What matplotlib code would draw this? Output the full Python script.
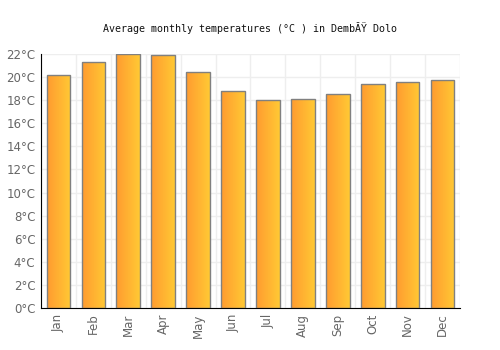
import numpy as np
import matplotlib
matplotlib.use("Agg")
import matplotlib.pyplot as plt
from matplotlib.colors import LinearSegmentedColormap

months = ["Jan", "Feb", "Mar", "Apr", "May", "Jun", "Jul", "Aug", "Sep", "Oct", "Nov", "Dec"]
temps = [20.2, 21.3, 22.0, 21.9, 20.4, 18.8, 18.0, 18.1, 18.5, 19.4, 19.6, 19.7]
yticks = list(range(0, 23, 2))
ytick_labels = [f"{v}°C" for v in yticks]
title = "Average monthly temperatures (°C ) in DembĂŸ Dolo"

fig = plt.figure(figsize=(5, 3.5), dpi=100)
ax = fig.add_axes([0.082, 0.12, 0.838, 0.726])

x = np.arange(len(months))
bars = ax.bar(x, temps, width=0.68, color="none", edgecolor="#808080", linewidth=1.0, zorder=3)

cmap = LinearSegmentedColormap.from_list("g", ["#ff9b30", "#ffc934"])
grad = np.linspace(0, 1, 64).reshape(1, -1)
for b in bars:
    bx, by = b.get_x(), b.get_y()
    w, h = b.get_width(), b.get_height()
    im = ax.imshow(grad, cmap=cmap, aspect="auto", extent=[bx, bx + w, by, by + h], zorder=2)
    im.set_clip_path(b)

ax.set_xlim(-0.5, len(months) - 0.5)
ax.set_ylim(0, 22)
ax.set_yticks(yticks)
ax.set_yticklabels(ytick_labels)
ax.set_xticks(x)
ax.set_xticklabels(months, rotation=90)
ax.set_xticks(np.arange(-0.5, len(months), 1), minor=True)
ax.grid(True, which="major", axis="y", color="#eeeeee", linewidth=1, zorder=0)
ax.grid(True, which="minor", axis="x", color="#eeeeee", linewidth=1, zorder=0)
ax.tick_params(axis="both", which="both", length=0, labelsize=8.5, labelcolor="#666666", pad=4)
for s in ["top", "right"]:
    ax.spines[s].set_visible(False)
ax.spines["left"].set_color("black")
ax.spines["bottom"].set_color("black")

fig.text(0.5, 0.92, title, ha="center", va="center", fontsize=7.2, family="DejaVu Sans Mono", color="#111111")

fig.savefig("out.png", dpi=100)
